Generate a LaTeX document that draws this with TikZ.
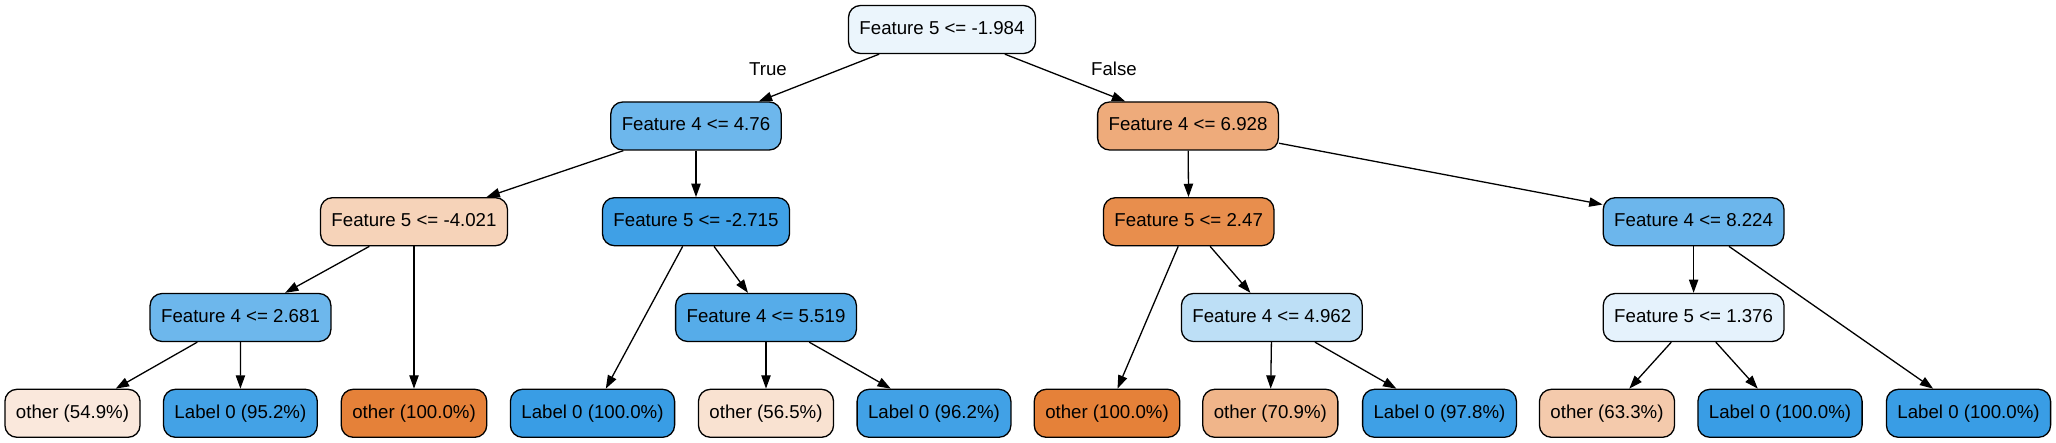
\documentclass[tikz,border=0pt]{standalone}
\usepackage{fontspec}
\setmainfont{Liberation Sans}
\usetikzlibrary{arrows.meta}
\definecolor{cRoot}{HTML}{EBF5FC}
\definecolor{cA}{HTML}{6DB7EC}
\definecolor{cB}{HTML}{EEAB7B}
\definecolor{cC}{HTML}{F6D3B9}
\definecolor{cD}{HTML}{3FA0E6}
\definecolor{cE}{HTML}{E88E4D}
\definecolor{cF}{HTML}{6CB6EC}
\definecolor{cG}{HTML}{6DB7EC}
\definecolor{cH}{HTML}{56ACE9}
\definecolor{cI}{HTML}{BDDFF6}
\definecolor{cJ}{HTML}{E5F2FC}
\definecolor{cO549}{HTML}{FAE8DC}
\definecolor{cL952}{HTML}{43A2E6}
\definecolor{cO100}{HTML}{E58139}
\definecolor{cL100}{HTML}{399DE5}
\definecolor{cO565}{HTML}{F9E2D1}
\definecolor{cL962}{HTML}{41A1E6}
\definecolor{cO709}{HTML}{F0B58A}
\definecolor{cL978}{HTML}{3EA0E6}
\definecolor{cO633}{HTML}{F4CAAC}
\begin{document}
\begin{tikzpicture}[x=1pt,y=-1pt,
  font=\fontsize{18.67}{22}\selectfont,
  tnode/.style={draw=black, line width=1.3pt, rounded corners=12pt,
    minimum height=48pt, inner xsep=11pt, inner ysep=2pt,
    text height=13.6pt, text depth=4.2pt},
  elabel/.style={inner sep=0pt, text height=13.6pt, text depth=4.2pt},
  conn/.style={draw=black, line width=1.3pt,
    -{Triangle[length=13.3pt,width=9.3pt]}}]
\useasboundingbox (0,0) rectangle (2056,443);
% level 0
\node[tnode, fill=cRoot] (n0) at (942,29.5) {Feature 5 <= -1.984};
% level 1
\node[tnode, fill=cA] (n1) at (696,126) {Feature 4 <= 4.76};
\node[tnode, fill=cB] (n2) at (1188,126) {Feature 4 <= 6.928};
% level 2
\node[tnode, fill=cC] (n3) at (414,221.7) {Feature 5 <= -4.021};
\node[tnode, fill=cD] (n4) at (696,221.7) {Feature 5 <= -2.715};
\node[tnode, fill=cE] (n5) at (1188.7,221.7) {Feature 5 <= 2.47};
\node[tnode, fill=cF] (n6) at (1693.6,221.7) {Feature 4 <= 8.224};
% level 3
\node[tnode, fill=cG] (n7) at (240.5,317.5) {Feature 4 <= 2.681};
\node[tnode, fill=cH] (n8) at (766,317.5) {Feature 4 <= 5.519};
\node[tnode, fill=cI] (n9) at (1271.8,317.5) {Feature 4 <= 4.962};
\node[tnode, fill=cJ] (n10) at (1693.6,317.5) {Feature 5 <= 1.376};
% leaves
\node[tnode, fill=cO549] (l1) at (72.5,413.3) {other (54.9\%)};
\node[tnode, fill=cL952] (l2) at (240.4,413.3) {Label 0 (95.2\%)};
\node[tnode, fill=cO100] (l3) at (414,413.3) {other (100.0\%)};
\node[tnode, fill=cL100] (l4) at (592.5,413.3) {Label 0 (100.0\%)};
\node[tnode, fill=cO565] (l5) at (766,413.3) {other (56.5\%)};
\node[tnode, fill=cL962] (l6) at (934,413.3) {Label 0 (96.2\%)};
\node[tnode, fill=cO100] (l7) at (1107,413.3) {other (100.0\%)};
\node[tnode, fill=cO709] (l8) at (1270.3,413.3) {other (70.9\%)};
\node[tnode, fill=cL978] (l9) at (1439.5,413.3) {Label 0 (97.8\%)};
\node[tnode, fill=cO633] (l10) at (1607,413.3) {other (63.3\%)};
\node[tnode, fill=cL100] (l11) at (1780,413.3) {Label 0 (100.0\%)};
\node[tnode, fill=cL100] (l12) at (1968.5,413.3) {Label 0 (100.0\%)};
% edge labels
\node[elabel] (tlab) at (768,70.7) {True};
\node[elabel] (flab) at (1114,70.7) {False};
% connectors
\draw[conn] (n0) -- (n1);
\draw[conn] (n0) -- (n2);
\draw[conn] (n1) -- (n3);
\draw[conn] (n1) -- (n4);
\draw[conn] (n2) -- (n5);
\draw[conn] (n2) -- (n6);
\draw[conn] (n3) -- (n7);
\draw[conn] (n3) -- (l3);
\draw[conn] (n7) -- (l1);
\draw[conn] (n7) -- (l2);
\draw[conn] (n4) -- (l4);
\draw[conn] (n4) -- (n8);
\draw[conn] (n8) -- (l5);
\draw[conn] (n8) -- (l6);
\draw[conn] (n5) -- (l7);
\draw[conn] (n5) -- (n9);
\draw[conn] (n9) -- (l8);
\draw[conn] (n9) -- (l9);
\draw[conn] (n6) -- (n10);
\draw[conn] (n6) -- (l12);
\draw[conn] (n10) -- (l10);
\draw[conn] (n10) -- (l11);
\end{tikzpicture}
\end{document}
